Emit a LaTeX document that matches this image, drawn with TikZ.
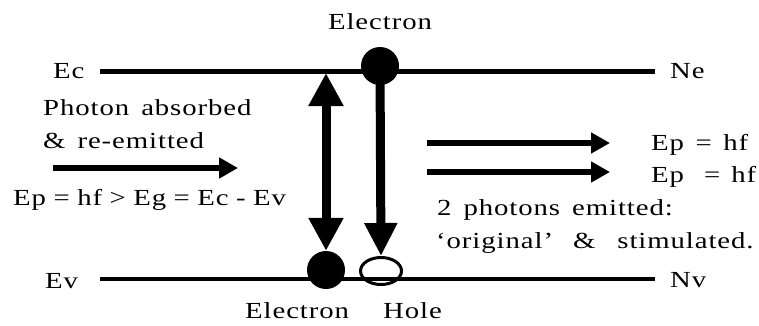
\documentclass[tikz,border=0pt]{standalone}
\usepackage{fontspec}
\setmainfont{Liberation Serif}[FakeStretch=1.25,LetterSpace=4]
\usetikzlibrary{arrows.meta,shapes.geometric}
\tikzset{
  lbl/.style={inner sep=0pt, anchor=base west, font={\fontsize{23}{27}\selectfont\spaceskip=12pt\relax}},
  wsp/.style={font={\fontsize{23}{27}\selectfont\spaceskip=#1\relax}},
  level/.style={line width=4.5pt},
  dot/.style={circle, fill=black, inner sep=0pt, minimum size=38pt},
  holeshape/.style={ellipse, draw=black, line width=3pt, inner sep=0pt, minimum width=41pt, minimum height=27pt},
  bigarr/.style={line width=9pt},
  smallarr/.style={line width=5.5pt, -{Triangle[length=19pt,width=20pt]}}
}
\begin{document}
\begin{tikzpicture}[x=1pt,y=-1pt]
\useasboundingbox (0,0) rectangle (759,325);
% energy levels
\coordinate (ecL) at (100,71.5);
\coordinate (ecR) at (655,71.5);
\coordinate (evL) at (100,279);
\coordinate (evR) at (655,279);
\draw[level] (ecL) -- (ecR);
\draw[level] (evL) -- (evR);
% particles
\node[dot] (etop) at (380,66) {};
\node[dot] (ebot) at (326,270) {};
\node[holeshape] (hole) at (381,271) {};
% vertical arrows
\coordinate (ecA) at (326,73);
\draw[bigarr, {Triangle[length=33pt,width=33pt]}-{Triangle[length=33pt,width=33pt]}] (ecA) -- (ebot.north);
\draw[bigarr, -{Triangle[length=33pt,width=31pt]}] (etop.center) -- (hole.north);
% photon arrows
\coordinate (inA) at (53,168);
\coordinate (inB) at (238,168);
\draw[smallarr] (inA) -- (inB);
\coordinate (o1A) at (427,143);
\coordinate (o1B) at (610,143);
\coordinate (o2A) at (427,172);
\coordinate (o2B) at (610,172);
\draw[smallarr] (o1A) -- (o1B);
\draw[smallarr] (o2A) -- (o2B);
% labels
\node[lbl, anchor=base] (tElec) at (380,29) {Electron};
\node[lbl] (tEc) at (53,78) {Ec};
\node[lbl] (tNe) at (670,78) {Ne};
\node[lbl] (tPh1) at (43,115) {Photon absorbed};
\node[lbl] (tPh2) at (43,148) {\& re-emitted};
\node[lbl, wsp=7.5pt] (tEq) at (13,205) {Ep = hf > Eg = Ec - Ev};
\node[lbl, wsp=11.5pt] (tEp1) at (651,150) {Ep = hf};
\node[lbl, wsp=11pt] (tEp2) at (651,182) {Ep\hspace{20pt}= hf};
\node[lbl] (tTwo1) at (437,215) {2 photons emitted:};
\node[lbl, wsp=22pt] (tTwo2) at (436,248) {‘original’\hspace{20pt}\& stimulated.};
\node[lbl] (tEv) at (45,288) {Ev};
\node[lbl] (tNv) at (670,287) {Nv};
\node[lbl] (tElec2) at (245,318) {Electron};
\node[lbl] (tHole) at (383,318) {Hole};
\end{tikzpicture}
\end{document}
